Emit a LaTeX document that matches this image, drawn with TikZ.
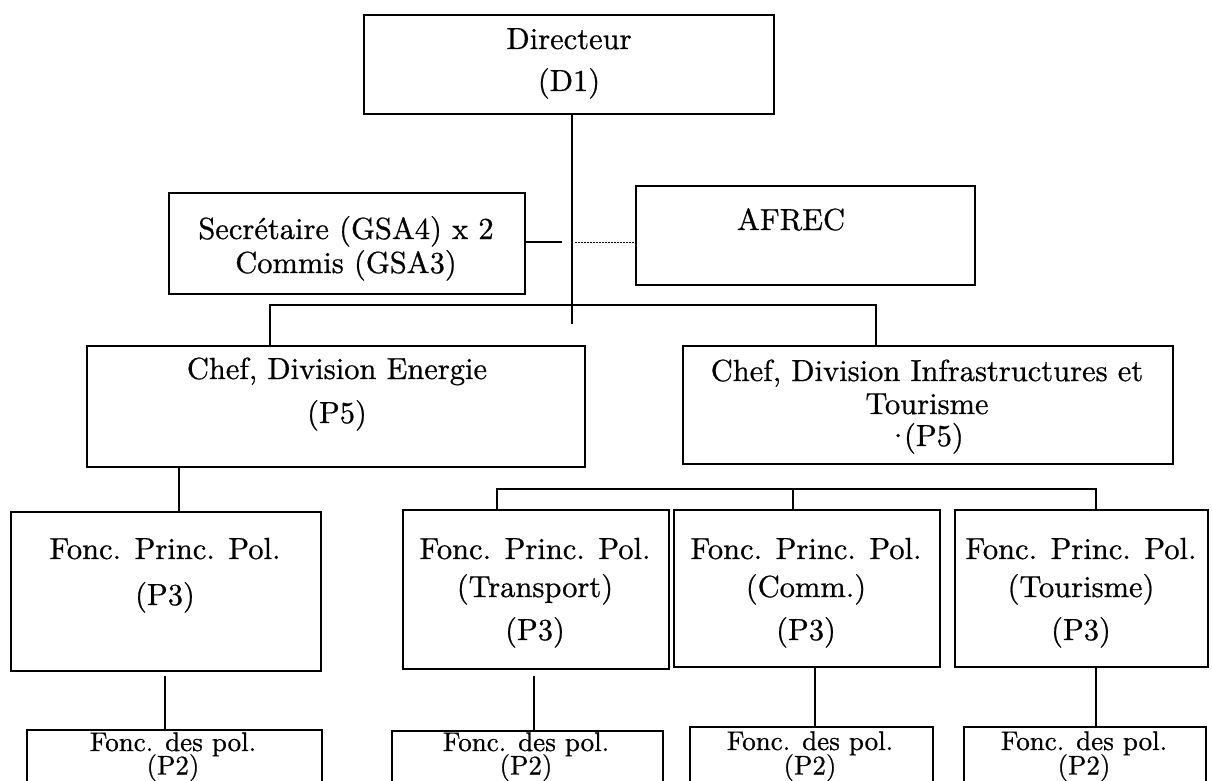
\documentclass[tikz,border=0pt]{standalone}
\usepackage{fontspec}
\setmainfont{lmroman10-regular.otf}[FakeBold=0.7]
\begin{document}
\begin{tikzpicture}[x=1pt,y=-1pt,
  box/.style={draw, line width=1.6pt, rectangle, inner sep=0pt, anchor=north west},
  txt/.style={anchor=base, inner sep=0pt, font=\fontsize{30.5}{36}\selectfont},
  smalltxt/.style={anchor=base, inner sep=0pt, font=\fontsize{27}{32}\selectfont},
  link/.style={line width=1.6pt},
  dotlink/.style={line width=1pt, dash pattern=on 1.5pt off 1.5pt}]
\useasboundingbox (0,0) rectangle (1212,781);
\clip (0,0) rectangle (1212,781);
\fill[white] (0,0) rectangle (1212,781);
% boxes
\node[box, minimum width=410pt, minimum height=99pt] (dir) at (363,14) {};
\node[box, minimum width=356pt, minimum height=101pt] (sec) at (168,192) {};
\node[box, minimum width=339pt, minimum height=99pt] (afr) at (635,185) {};
\node[box, minimum width=498pt, minimum height=121pt] (en) at (86,345) {};
\node[box, minimum width=490pt, minimum height=118pt] (inf) at (682,345) {};
\node[box, minimum width=310pt, minimum height=159pt] (fa) at (10,511) {};
\node[box, minimum width=266pt, minimum height=159pt] (fb) at (402,509) {};
\node[box, minimum width=266pt, minimum height=157pt] (fc) at (673,509) {};
\node[box, minimum width=253pt, minimum height=157pt] (fd) at (954,509) {};
\node[box, minimum width=295pt, minimum height=80pt] (pa) at (26,729) {};
\node[box, minimum width=271pt, minimum height=80pt] (pb) at (391,730) {};
\node[box, minimum width=243pt, minimum height=80pt] (pc) at (689,726) {};
\node[box, minimum width=242pt, minimum height=80pt] (pd) at (963,726) {};
% texts
\node[txt] (dir1) at (569,49) {Directeur};
\node[txt] (dir2) at (569,91) {(D1)};
\node[txt] (sec1) at (346,239) {Secrétaire (GSA4) x 2};
\node[txt] (sec2) at (346,273) {Commis (GSA3)};
\node[txt] (afr1) at (791,230) {AFREC};
\node[txt] (en1) at (337,379) {Chef, Division Energie};
\node[txt] (en2) at (337,423) {(P5)};
\node[txt] (inf1) at (927,381) {Chef, Division Infrastructures et};
\node[txt] (inf2) at (927,414) {Tourisme};
\node[txt] (inf3) at (925,446) {·\kern-6pt(P5)};
\node[txt] (fa1) at (165,559) {Fonc. Princ. Pol.};
\node[txt] (fa2) at (165,605) {(P3)};
\node[txt] (fb1) at (535,559) {Fonc. Princ. Pol.};
\node[txt] (fb2) at (535,597) {(Transport)};
\node[txt] (fb3) at (535,640) {(P3)};
\node[txt] (fc1) at (806,559) {Fonc. Princ. Pol.};
\node[txt] (fc2) at (806,597) {(Comm.)};
\node[txt] (fc3) at (806,640) {(P3)};
\node[txt] (fd1) at (1081,559) {Fonc. Princ. Pol.};
\node[txt] (fd2) at (1081,597) {(Tourisme)};
\node[txt] (fd3) at (1081,640) {(P3)};
\node[smalltxt] (pa1) at (173,751) {Fonc. des pol.};
\node[smalltxt] (pa2) at (173,774.5) {(P2)};
\node[smalltxt] (pb1) at (526,751) {Fonc. des pol.};
\node[smalltxt] (pb2) at (526,774.5) {(P2)};
\node[smalltxt] (pc1) at (810,750) {Fonc. des pol.};
\node[smalltxt] (pc2) at (810,774.5) {(P2)};
\node[smalltxt] (pd1) at (1084,750) {Fonc. des pol.};
\node[smalltxt] (pd2) at (1084,774.5) {(P2)};
% connectors
\coordinate (dv) at (572,324);
\draw[link] (dir.south -| dv) -- (dv);
\coordinate (hl) at (270,305);
\coordinate (hr) at (876,305);
\draw[link] (en.north -| hl) -- (hl) -- (hr) -- (inf.north -| hr);
\coordinate (s1) at (562,242);
\coordinate (s2) at (575,242);
\draw[link] (sec.east |- s1) -- (s1);
\draw[dotlink] (s2) -- (afr.west |- s2);
\coordinate (ev) at (179,0);
\draw[link] (en.south -| ev) -- (fa.north -| ev);
\coordinate (bl) at (497,489);
\coordinate (bm) at (793,489);
\coordinate (br) at (1096,489);
\draw[link] (fb.north -| bl) -- (bl) -- (br) -- (fd.north -| br);
\draw[link] (bm) -- (fc.north -| bm);
\coordinate (va) at (165,676);
\draw[link] (va) -- (pa.north -| va);
\coordinate (vb) at (534,676);
\draw[link] (vb) -- (pb.north -| vb);
\coordinate (vc) at (815,0);
\draw[link] (fc.south -| vc) -- (pc.north -| vc);
\coordinate (vd) at (1096,0);
\draw[link] (fd.south -| vd) -- (pd.north -| vd);
\end{tikzpicture}
\end{document}
